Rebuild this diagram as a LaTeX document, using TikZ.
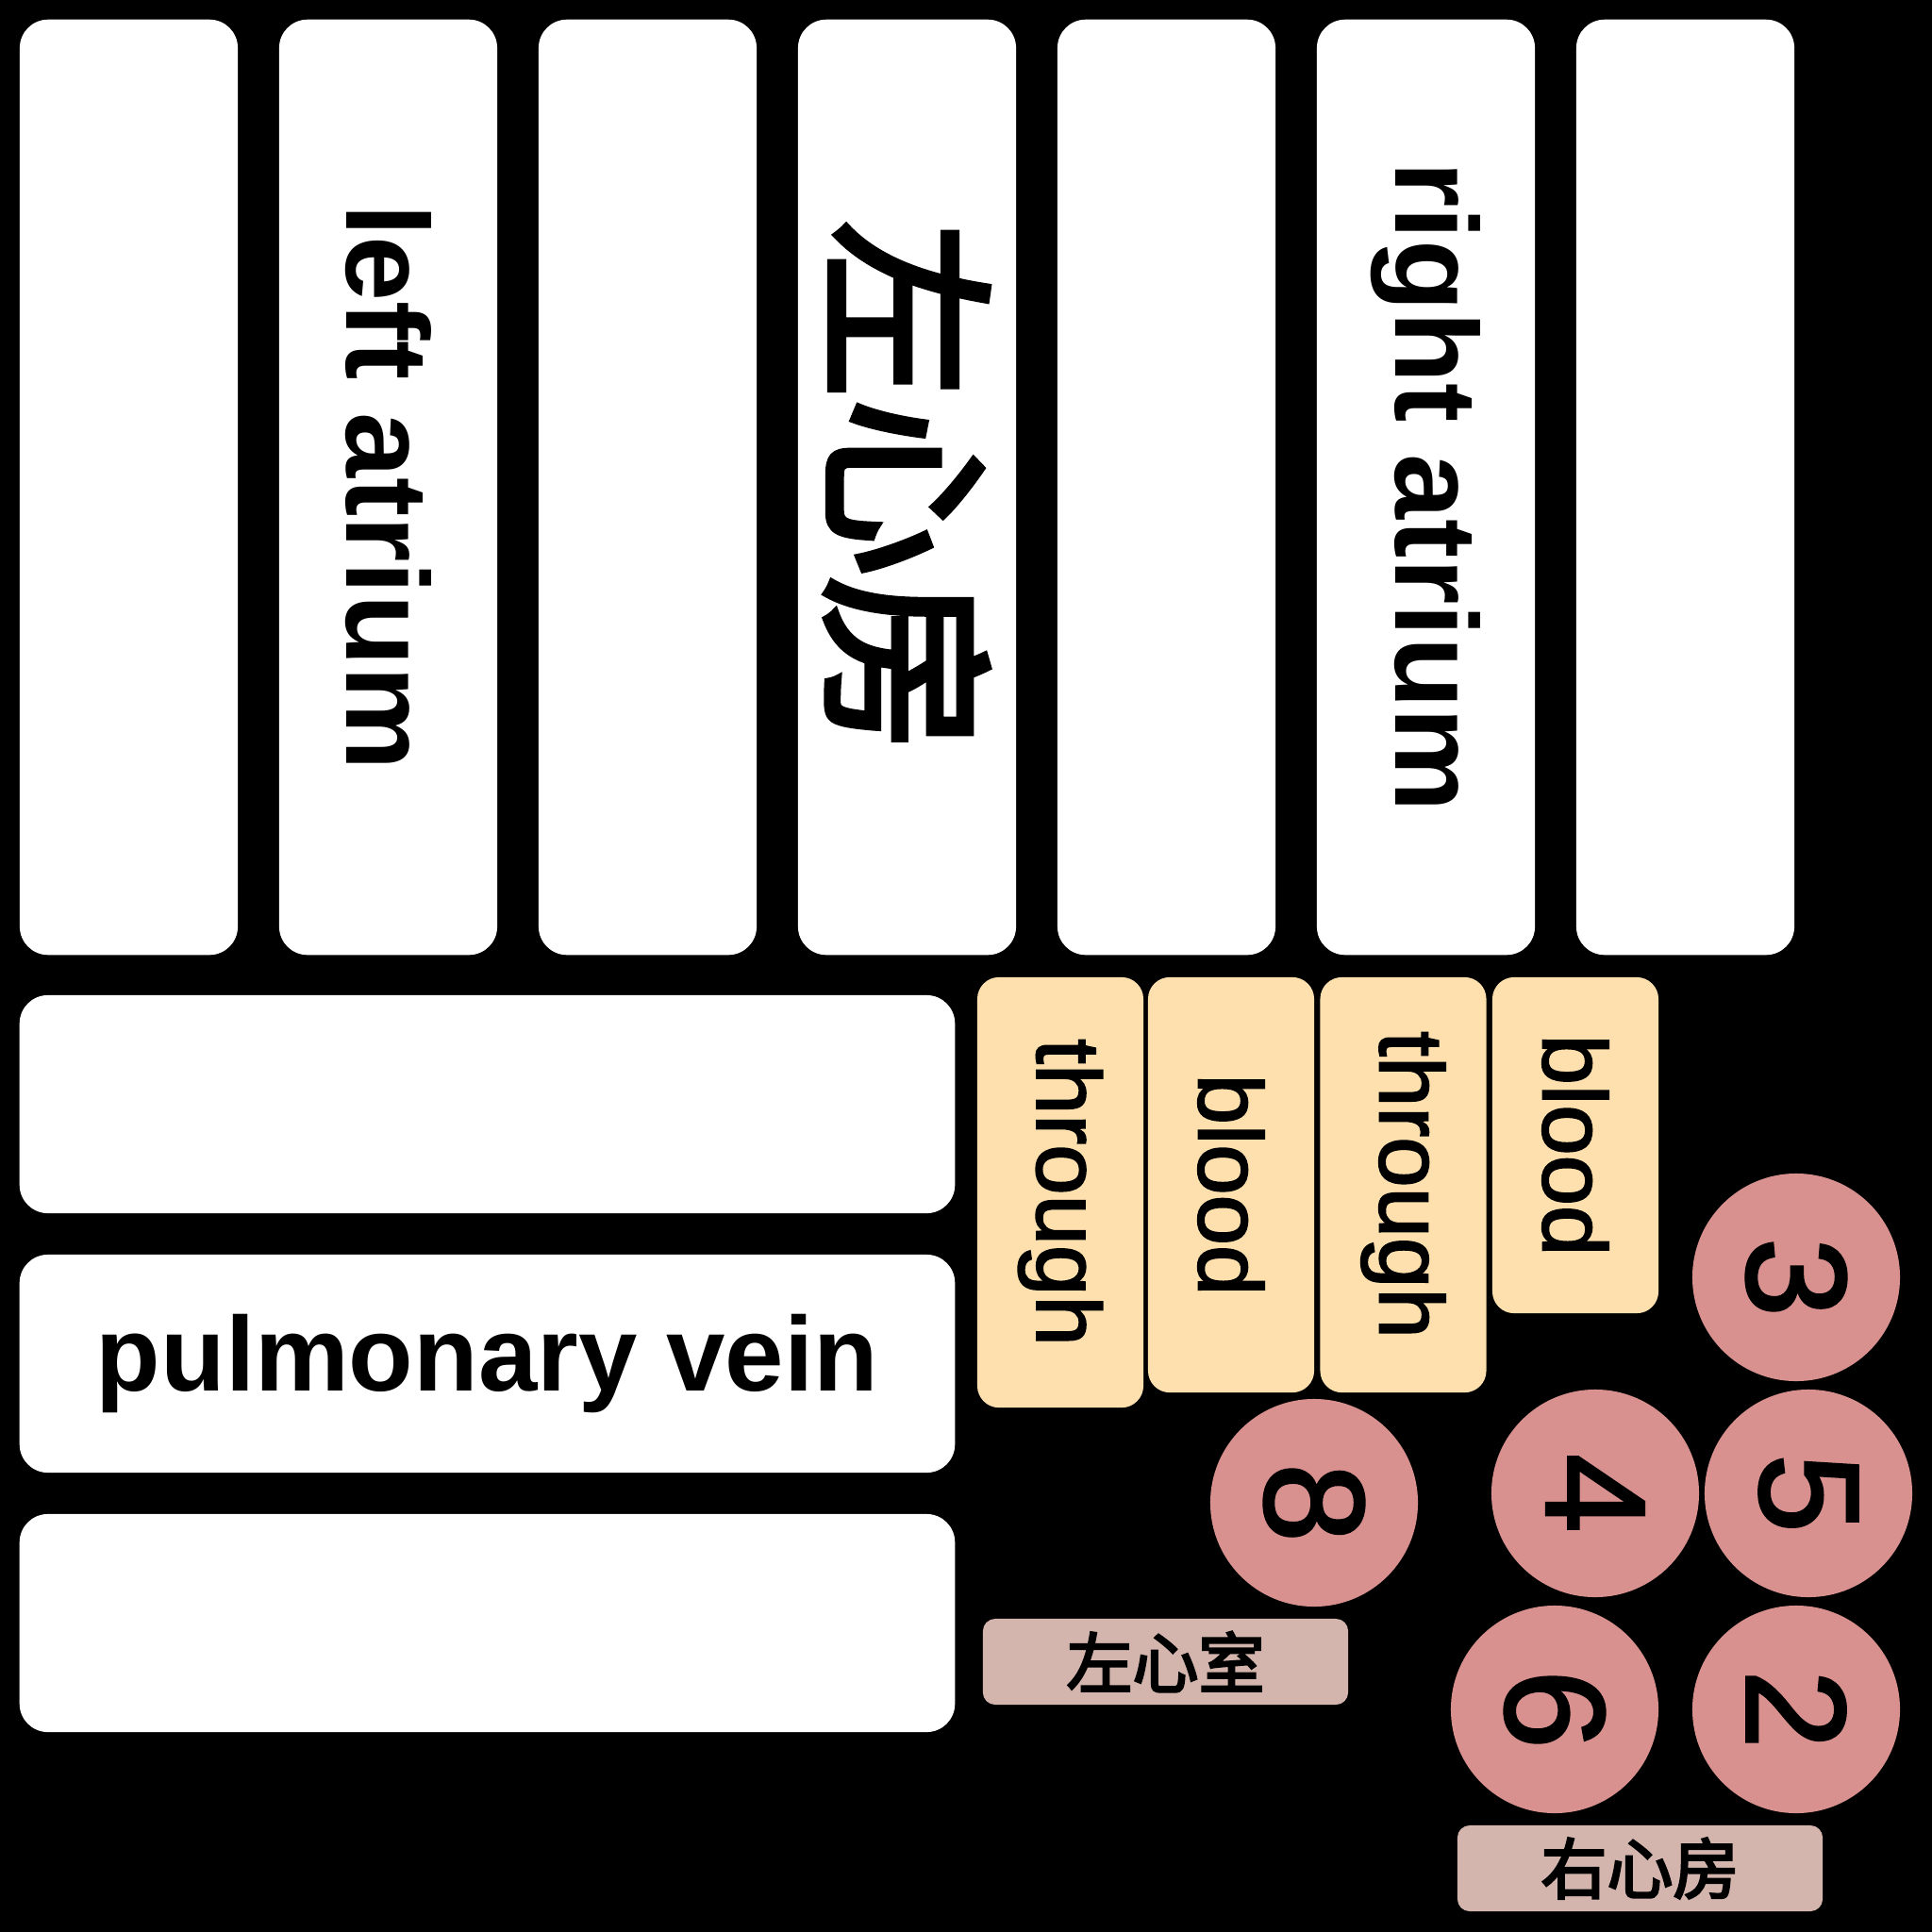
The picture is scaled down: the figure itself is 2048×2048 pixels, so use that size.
\documentclass[tikz,border=0pt]{standalone}
\usepackage{fontspec}
\setmainfont{Liberation Sans}
\newfontfamily\semib[FakeBold=2]{Liberation Sans}
\newfontfamily\cjk[FakeBold=3.5]{Noto Sans CJK SC}
\begin{document}
\begin{tikzpicture}[x=0.01cm,y=-0.01cm,
  wbox/.style={fill=white, rounded corners=0.3cm, inner sep=0pt, text=black},
  ybox/.style={fill=ylw, rounded corners=0.23cm, inner sep=0pt, rotate=-90, minimum height=1.76cm,
     font=\semib\fontsize{27.3}{30}\selectfont},
  num/.style={circle, fill=pnk, minimum size=2.2cm, inner sep=0pt, rotate=-90,
     font=\semib\fontsize{42.7}{46}\selectfont},
  lbl/.style={fill=lbr, rounded corners=0.13cm, minimum width=3.87cm, minimum height=0.91cm, inner sep=0pt,
     font=\cjk\fontsize{19.9}{22}\selectfont},
  vbox/.style={wbox, rotate=-90, minimum width=9.91cm, minimum height=2.31cm},
  hbox/.style={wbox, minimum width=9.91cm, minimum height=2.31cm}]
\definecolor{ylw}{HTML}{FDE0AD}
\definecolor{pnk}{HTML}{D8918E}
\definecolor{lbr}{HTML}{D3B5AD}
\fill[black] (0,0) rectangle (2048,2048);
\useasboundingbox (0,0) rectangle (2048,2048);
% top vertical boxes
\node[vbox] (v1) at (136.5,516.5) {};
\node[vbox, font=\bfseries\fontsize{35.3}{40}\selectfont] (v2) at (411.5,516.5) {left atrium};
\node[vbox] (v3) at (686.5,516.5) {};
\node[vbox, font=\cjk\fontsize{53.5}{58}\selectfont] (v4) at (961.5,516.5) {左心房};
\node[vbox] (v5) at (1236.5,516.5) {};
\node[vbox, font=\bfseries\fontsize{35.3}{40}\selectfont] (v6) at (1511.5,516.5) {right atrium};
\node[vbox] (v7) at (1786.5,516.5) {};
% horizontal boxes
\node[hbox] (h1) at (516.5,1170.5) {};
\node[hbox, font=\bfseries\fontsize{31.9}{36}\selectfont] (h2) at (516.5,1445.5) {pulmonary vein};
\node[hbox] (h3) at (516.5,1720.5) {};
% yellow boxes
\node[ybox, minimum width=4.56cm] (y1) at (1124,1264) {through};
\node[ybox, minimum width=4.40cm] (y2) at (1305,1256) {blood};
\node[ybox, minimum width=4.40cm] (y3) at (1487.5,1256) {through};
\node[ybox, minimum width=3.56cm] (y4) at (1670,1214) {blood};
% circles
\node[num] (c3) at (1904,1354) {3};
\node[num] (c8) at (1393,1593) {8};
\node[num] (c4) at (1691,1583) {4};
\node[num] (c5) at (1917,1583) {5};
\node[num] (c6) at (1648,1812) {6};
\node[num] (c2) at (1904,1812) {2};
% labels
\node[lbl] (l1) at (1235.5,1761.5) {左心室};
\node[lbl] (l2) at (1738.5,1980.5) {右心房};
\end{tikzpicture}
\end{document}
